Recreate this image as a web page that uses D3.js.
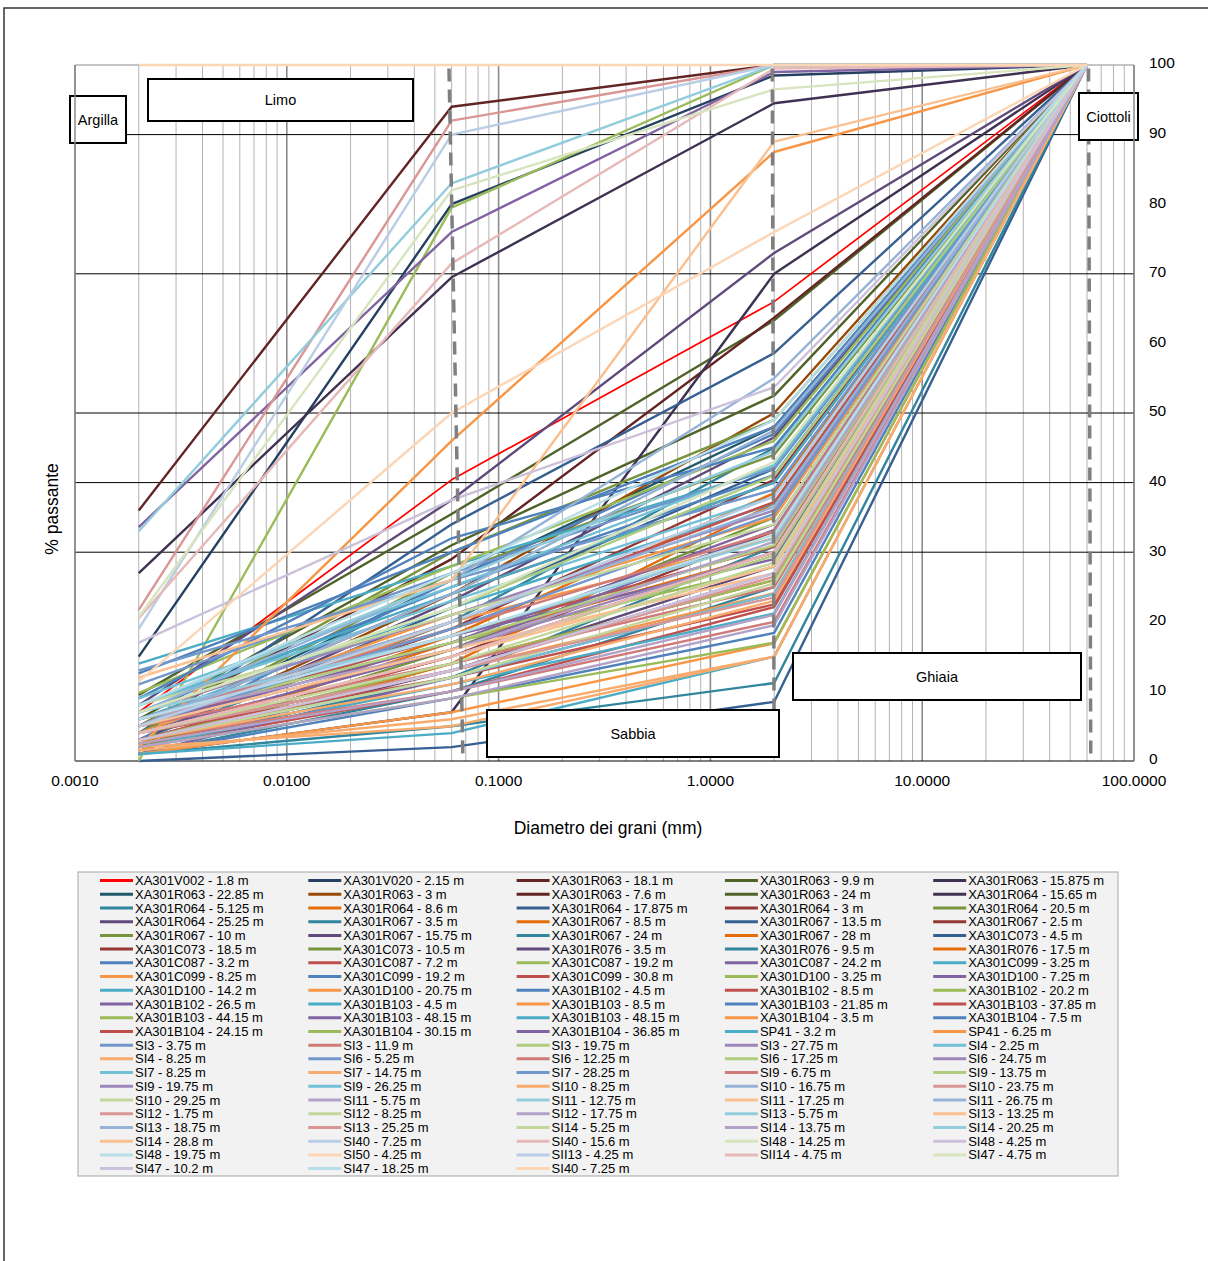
<!DOCTYPE html>
<html>
<head>
<meta charset="utf-8">
<script src="https://cdn.jsdelivr.net/npm/d3@7"></script>
<style>
  body { margin: 0; background: #fff; }
  svg { font-family: "Liberation Sans", Arial, sans-serif; }
</style>
</head>
<body>
<svg id="chart" width="1208" height="1261"></svg>
<script>
// grain sizes (mm) where each sample was measured
var diameters = [0.002, 0.06, 2, 60];

var seriesNames = [
  "XA301V002 - 1.8 m", "XA301V020 - 2.15 m", "XA301R063 - 18.1 m", "XA301R063 - 9.9 m", "XA301R063 - 15.875 m",
  "XA301R063 - 22.85 m", "XA301R063 - 3 m", "XA301R063 - 7.6 m", "XA301R063 - 24 m", "XA301R064 - 15.65 m",
  "XA301R064 - 5.125 m", "XA301R064 - 8.6 m", "XA301R064 - 17.875 m", "XA301R064 - 3 m", "XA301R064 - 20.5 m",
  "XA301R064 - 25.25 m", "XA301R067 - 3.5 m", "XA301R067 - 8.5 m", "XA301R067 - 13.5 m", "XA301R067 - 2.5 m",
  "XA301R067 - 10 m", "XA301R067 - 15.75 m", "XA301R067 - 24 m", "XA301R067 - 28 m", "XA301C073 - 4.5 m",
  "XA301C073 - 18.5 m", "XA301C073 - 10.5 m", "XA301R076 - 3.5 m", "XA301R076 - 9.5 m", "XA301R076 - 17.5 m",
  "XA301C087 - 3.2 m", "XA301C087 - 7.2 m", "XA301C087 - 19.2 m", "XA301C087 - 24.2 m", "XA301C099 - 3.25 m",
  "XA301C099 - 8.25 m", "XA301C099 - 19.2 m", "XA301C099 - 30.8 m", "XA301D100 - 3.25 m", "XA301D100 - 7.25 m",
  "XA301D100 - 14.2 m", "XA301D100 - 20.75 m", "XA301B102 - 4.5 m", "XA301B102 - 8.5 m", "XA301B102 - 20.2 m",
  "XA301B102 - 26.5 m", "XA301B103 - 4.5 m", "XA301B103 - 8.5 m", "XA301B103 - 21.85 m", "XA301B103 - 37.85 m",
  "XA301B103 - 44.15 m", "XA301B103 - 48.15 m", "XA301B103 - 48.15 m", "XA301B104 - 3.5 m", "XA301B104 - 7.5 m",
  "XA301B104 - 24.15 m", "XA301B104 - 30.15 m", "XA301B104 - 36.85 m", "SP41 - 3.2 m", "SP41 - 6.25 m",
  "SI3 - 3.75 m", "SI3 - 11.9 m", "SI3 - 19.75 m", "SI3 - 27.75 m", "SI4 - 2.25 m",
  "SI4 - 8.25 m", "SI6 - 5.25 m", "SI6 - 12.25 m", "SI6 - 17.25 m", "SI6 - 24.75 m",
  "SI7 - 8.25 m", "SI7 - 14.75 m", "SI7 - 28.25 m", "SI9 - 6.75 m", "SI9 - 13.75 m",
  "SI9 - 19.75 m", "SI9 - 26.25 m", "SI10 - 8.25 m", "SI10 - 16.75 m", "SI10 - 23.75 m",
  "SI10 - 29.25 m", "SI11 - 5.75 m", "SI11 - 12.75 m", "SI11 - 17.25 m", "SI11 - 26.75 m",
  "SI12 - 1.75 m", "SI12 - 8.25 m", "SI12 - 17.75 m", "SI13 - 5.75 m", "SI13 - 13.25 m",
  "SI13 - 18.75 m", "SI13 - 25.25 m", "SI14 - 5.25 m", "SI14 - 13.75 m", "SI14 - 20.25 m",
  "SI14 - 28.8 m", "SI40 - 7.25 m", "SI40 - 15.6 m", "SI48 - 14.25 m", "SI48 - 4.25 m",
  "SI48 - 19.75 m", "SI50 - 4.25 m", "SII13 - 4.25 m", "SII14 - 4.75 m", "SI47 - 4.75 m",
  "SI47 - 10.2 m", "SI47 - 18.25 m", "SI40 - 7.25 m"
];

// % passing at each diameter, one row per sample (same order as names)
var passing = [
  [7, 40.4, 66, 100], [15, 80, 98.5, 100], [36, 94, 100, 100], [9.5, 35.5, 63.3, 100], [27, 69.5, 94.5, 100],
  [4, 26, 48, 100], [3, 24, 50, 100], [5, 29, 63.7, 100], [6, 31, 52.5, 100], [1, 7, 70, 100],
  [3, 20, 45, 100], [2, 18, 38.5, 100], [4, 34, 58.6, 100], [3, 15, 33, 100], [5, 30, 49, 100],
  [8, 37.5, 73, 100], [2, 12, 30.8, 100], [1.5, 14, 37, 100], [3, 22, 42, 100], [4, 19, 40.4, 100],
  [2, 16, 35, 100], [3, 23, 46.5, 100], [1, 10, 25, 100], [2.5, 17, 29.9, 100], [0, 2, 8.5, 100],
  [5, 24, 40, 100], [4, 27, 44, 100], [2, 13, 28, 100], [1, 5, 11.2, 100], [2, 14, 26, 100],
  [3, 26, 47, 100], [3, 15, 30, 100], [0, 79.5, 100, 100], [33.6, 76, 99, 100], [14, 28, 42, 100],
  [4, 20, 32, 100], [12.6, 30, 48, 100], [2, 10, 22.1, 100], [9.8, 28, 46, 100], [1, 12, 24, 100],
  [6, 22, 37, 100], [5, 21, 35, 100], [1, 9, 18.4, 100], [5, 18, 30.8, 100], [6, 17, 27.9, 100],
  [4, 16, 33.2, 100], [2, 11, 21.2, 100], [3, 13, 24.1, 100], [7, 25, 41.1, 100], [6, 20, 37.2, 100],
  [3, 14, 26, 100], [5, 17, 34, 100], [8, 24, 40, 100], [1, 7, 16.9, 100], [9, 32, 45.1, 100],
  [4, 12, 22.5, 100], [2, 9, 17, 100], [6, 18, 29, 100], [1, 4, 15, 100], [2, 46, 87.5, 100],
  [11, 27, 42.1, 100], [6, 19, 33, 100], [4, 15, 29.5, 100], [7, 21, 36, 100], [3, 12, 24, 100],
  [2, 5, 15, 100], [13, 26, 39, 100], [5, 14, 25, 100], [6, 17, 31, 100], [4, 13, 27, 100],
  [8, 23, 38, 100], [1.5, 6, 15, 100], [5, 19, 35.5, 100], [3, 10, 20, 100], [7, 22, 41, 100],
  [5, 16, 30, 100], [9, 25, 42.5, 100], [3, 11, 23, 100], [6, 20, 36.5, 100], [4, 13, 26.5, 100],
  [8, 21, 34, 100], [2, 9, 19.5, 100], [7, 18, 32, 100], [4, 15, 28, 100], [5, 24, 47.5, 100],
  [21.7, 92, 100, 100], [3, 12, 25.5, 100], [6, 16, 31.5, 100], [33, 83, 100, 100], [5, 16, 27, 100],
  [7, 26, 55, 100], [3, 13, 23.5, 100], [4, 14, 28.5, 100], [2.5, 10, 21, 100], [8, 26, 44.5, 100],
  [12, 26, 89, 100], [19, 90, 100, 100], [20.5, 71.5, 99.5, 100], [20.7, 82, 96.5, 100], [17, 37.5, 53.7, 100],
  [6, 18, 32.5, 100], [11.4, 50, 76, 100], [5, 20, 38, 100], [4, 15, 30, 100], [7, 22, 43, 100],
  [3, 13, 27, 100], [8, 27, 49, 100], [100, 100, 100, 100]
];

var xTicks = [0.001, 0.01, 0.1, 1, 10, 100];
var yTicks = [0, 10, 20, 30, 40, 50, 60, 70, 80, 90, 100];
var gridPassing = [30, 40, 50, 70, 90];

// soil class limits, drawn as dashed lines (diameter at 100% and at 0%)
var classLimits = [[0.0583, 0.0679], [1.96, 2.0], [61, 62.5]];
var classNames = ["Argilla", "Limo", "Sabbia", "Ghiaia", "Ciottoli"];

// Excel-like palette: blue, red, green, purple, teal, orange in several shades
var shades = {
  A: ["#254061", "#632523", "#4F6228", "#3F3151", "#215968", "#984807"],
  B: ["#376092", "#953735", "#77933C", "#604A7B", "#31859C", "#E46C0A"],
  C: ["#4F81BD", "#C0504D", "#9BBB59", "#8064A2", "#4BACC6", "#F79646"],
  D: ["#7096CB", "#D07B79", "#B0CC7E", "#9D87BA", "#72C0D6", "#F9AB6E"],
  E: ["#95B3D7", "#D99694", "#C3D69B", "#B3A2C7", "#93CDDD", "#FAC090"],
  F: ["#B9CDE5", "#E6B9B8", "#D7E4BD", "#CCC1DA", "#B7DEE8", "#FCD5B5"]
};

function colorFor(i) {
  var n = i + 1;
  if (n === 1) return "#FF0000";
  if (n <= 7) return shades.A[n - 2];
  var idx = (n - 7) % 6;
  var lvl = n <= 10 ? "A" : n <= 30 ? "B" : n <= 60 ? "C" : n <= 78 ? "D" : n <= 96 ? "E" : "F";
  return shades[lvl][idx];
}

var svg = d3.select("#chart");

// outer frame
svg.append("rect")
  .attr("x", 4).attr("y", 8).attr("width", 1230).attr("height", 1280)
  .attr("fill", "none").attr("stroke", "#333").attr("stroke-width", 1.5);

var plot = { left: 75, right: 1134, top: 65, bottom: 761 };

var x = d3.scaleLog().domain([0.001, 100]).range([plot.left, plot.right]);
var y = d3.scaleLinear().domain([0, 100]).range([plot.bottom, plot.top]);

// vertical log grid
var minor = [];
xTicks.slice(0, -1).forEach(function(d) {
  for (var k = 2; k <= 9; k++) minor.push(d * k);
});
svg.append("g").selectAll("line").data(minor).join("line")
  .attr("x1", d => x(d)).attr("x2", d => x(d))
  .attr("y1", plot.top).attr("y2", plot.bottom)
  .attr("stroke", "#b3b3b3").attr("stroke-width", 1);
svg.append("g").selectAll("line").data(xTicks).join("line")
  .attr("x1", d => x(d)).attr("x2", d => x(d))
  .attr("y1", plot.top).attr("y2", plot.bottom)
  .attr("stroke", "#8c8c8c").attr("stroke-width", 1.6);

// horizontal grid
svg.append("g").selectAll("line").data(gridPassing).join("line")
  .attr("x1", plot.left).attr("x2", plot.right)
  .attr("y1", d => y(d)).attr("y2", d => y(d))
  .attr("stroke", "#000").attr("stroke-width", 1);
svg.append("line")
  .attr("x1", plot.left).attr("x2", plot.right)
  .attr("y1", plot.top).attr("y2", plot.top)
  .attr("stroke", "#8c8c8c");
svg.append("line")
  .attr("x1", plot.left).attr("x2", plot.right)
  .attr("y1", plot.bottom).attr("y2", plot.bottom)
  .attr("stroke", "#000").attr("stroke-width", 1.2);

// curves
var line = d3.line()
  .x((d, i) => x(diameters[i]))
  .y(d => y(d));

svg.append("g").selectAll("path").data(passing).join("path")
  .attr("d", line)
  .attr("fill", "none")
  .attr("stroke", (d, i) => colorFor(i))
  .attr("stroke-width", (d, i) => i === 0 ? 1.7 : 2.4)
  .attr("stroke-linejoin", "round");

// class limit dashed lines
svg.append("g").selectAll("line").data(classLimits).join("line")
  .attr("x1", d => x(d[0])).attr("y1", y(99.5))
  .attr("x2", d => x(d[1])).attr("y2", y(0))
  .attr("stroke", "#7f7f7f").attr("stroke-width", 3.5)
  .attr("stroke-dasharray", "13,8");

// class label boxes
var boxes = [
  { x: 70, y: 96, w: 56, h: 47 },
  { x: 148, y: 79, w: 265, h: 42 },
  { x: 487, y: 710, w: 292, h: 47 },
  { x: 793, y: 653, w: 288, h: 47 },
  { x: 1079, y: 93, w: 59, h: 47 }
];
var box = svg.append("g").selectAll("g").data(classNames).join("g");
box.append("rect")
  .attr("x", (d, i) => boxes[i].x).attr("y", (d, i) => boxes[i].y)
  .attr("width", (d, i) => boxes[i].w).attr("height", (d, i) => boxes[i].h)
  .attr("fill", "#fff").attr("stroke", "#000").attr("stroke-width", 2);
box.append("text")
  .attr("x", (d, i) => boxes[i].x + boxes[i].w / 2)
  .attr("y", (d, i) => boxes[i].y + boxes[i].h / 2)
  .attr("dy", "0.35em")
  .attr("text-anchor", "middle")
  .attr("font-size", 14.5)
  .text(d => d);

// left and right axis lines
svg.append("line").attr("x1", plot.left).attr("x2", plot.left)
  .attr("y1", plot.top).attr("y2", plot.bottom).attr("stroke", "#8c8c8c").attr("stroke-width", 1.5);
svg.append("line").attr("x1", plot.right).attr("x2", plot.right)
  .attr("y1", plot.top).attr("y2", plot.bottom).attr("stroke", "#8c8c8c").attr("stroke-width", 1.5);

// x tick labels
svg.append("g").selectAll("text").data(xTicks).join("text")
  .attr("x", d => x(d)).attr("y", 786)
  .attr("text-anchor", "middle")
  .attr("font-size", 15.5)
  .text(d3.format(".4f"));

// y tick labels on the right
svg.append("g").selectAll("text").data(yTicks).join("text")
  .attr("x", 1149).attr("y", d => y(d) - 2)
  .attr("dy", "0.35em")
  .attr("font-size", 15.5)
  .text(d => d);

// axis titles
svg.append("text").attr("x", 608).attr("y", 834)
  .attr("text-anchor", "middle").attr("font-size", 17.5)
  .text("Diametro dei grani (mm)");
svg.append("text")
  .attr("transform", "translate(58,509) rotate(-90)")
  .attr("text-anchor", "middle").attr("font-size", 17.5)
  .text("% passante");

// legend
svg.append("rect")
  .attr("x", 78).attr("y", 872).attr("width", 1040).attr("height", 304)
  .attr("fill", "#f2f2f2").attr("stroke", "#a6a6a6");

var item = svg.append("g").selectAll("g").data(seriesNames).join("g")
  .attr("transform", (d, i) => "translate(" + (100 + (i % 5) * 208.3) + "," + (880.5 + Math.floor(i / 5) * 13.72) + ")");
item.append("line")
  .attr("x1", 0).attr("x2", 33)
  .attr("stroke", (d, i) => colorFor(i))
  .attr("stroke-width", 3);
item.append("text")
  .attr("x", 35).attr("dy", "0.35em")
  .attr("font-size", 13)
  .text(d => d);
</script>
</body>
</html>
